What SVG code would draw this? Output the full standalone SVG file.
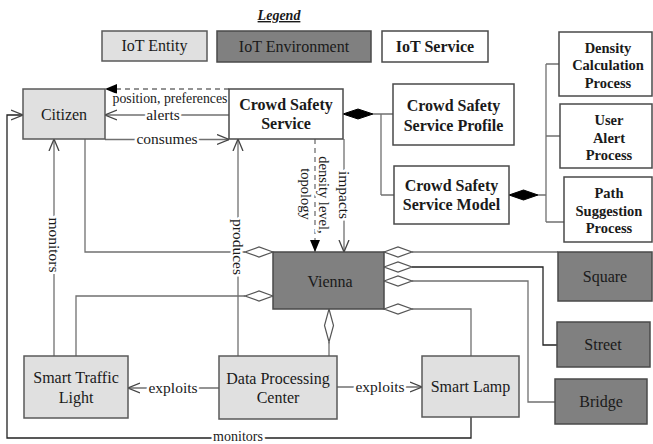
<svg xmlns="http://www.w3.org/2000/svg" width="653" height="444" viewBox="0 0 653 444" font-family="'Liberation Serif', 'Times New Roman', 'DejaVu Serif', serif">
<style>
text{font-family:'Liberation Serif','Times New Roman','DejaVu Serif',serif;fill:#1a1a1a;text-anchor:middle}
.n{font-size:16px}
.b{font-size:16px;font-weight:bold}
.p{font-size:14.5px;font-weight:bold}
.l{font-size:15.5px;paint-order:stroke;stroke:#fff;stroke-width:5px;stroke-linejoin:round}
.ent{fill:#e0e0e0;stroke:#5a5a5a;stroke-width:1.5}
.env{fill:#808080;stroke:#4a4a4a;stroke-width:1.5}
.srv{fill:#fff;stroke:#4a4a4a;stroke-width:1.5}
.ln{fill:none;stroke:#707070;stroke-width:1.3}
.dk{fill:none;stroke:#222;stroke-width:1.3}
.ds{fill:none;stroke:#707070;stroke-width:1.3;stroke-dasharray:5,4}
.hd{fill:#fff;stroke:#555;stroke-width:1.2}
.fd{fill:#000;stroke:#000;stroke-width:1}
</style>
<defs>
<marker id="open" viewBox="0 0 12 12" refX="12" refY="6" markerWidth="12" markerHeight="12" orient="auto" markerUnits="userSpaceOnUse"><path d="M0,1 L12,6 L0,11" fill="none" stroke="#444" stroke-width="1.3"/></marker>
<marker id="tri" viewBox="0 0 12 12" refX="12" refY="6" markerWidth="12" markerHeight="12" orient="auto" markerUnits="userSpaceOnUse"><path d="M0,1 L12,6 L0,11 Z" fill="#000"/></marker>
</defs>

<g id="legend">
<text x="279" y="20" style="font-size:14px;font-weight:bold;font-style:italic;text-decoration:underline">Legend</text>
<rect class="ent" x="102" y="31" width="105" height="30"/>
<text class="n" x="154.5" y="51">IoT Entity</text>
<rect class="env" x="217" y="31" width="154" height="31"/>
<text class="n" x="294" y="52">IoT Environment</text>
<rect class="srv" x="382" y="31" width="106" height="31"/>
<text class="b" x="435" y="52">IoT Service</text>
</g>

<g id="connectors">
<path class="ln" d="M373,114 H381 M381,114 V195 M381,114 H393 M381,195 H394"/>
<path class="ln" d="M538,195 H546 M546,64 V222 M546,64 H559 M546,136 H560 M546,222 H564"/>
<path class="ln" d="M85,139 V252 H245"/>
<path class="ln" d="M76,356 V296 H245"/>
<path class="ln" d="M412,252 H558"/>
<path class="dk" d="M412,267 H543 V345 H557"/>
<path class="ln" d="M412,281 H528 V402 H555"/>
<path class="ln" d="M412,309 H471 V356"/>
<path class="ln" d="M329,342 V356"/>
<path class="dk" d="M471,417 V438 H7 V115 H23" marker-end="url(#open)"/>
<path class="ln" d="M54,356 V139" marker-end="url(#open)"/>
<path class="ln" d="M238,356 V139" marker-end="url(#open)"/>
<path class="ds" d="M229,89 H105" marker-end="url(#tri)"/>
<path class="ln" d="M229,115 H105" marker-end="url(#open)"/>
<path class="ln" d="M105,139.5 H229" marker-end="url(#open)"/>
<path class="ds" d="M315,139 V252" marker-end="url(#tri)"/>
<path class="ln" d="M344,139 V252" marker-end="url(#open)"/>
<path class="ln" d="M219,388 H128" marker-end="url(#open)"/>
<path class="ln" d="M337,387 H422" marker-end="url(#open)"/>
<polygon class="fd" points="343,114 358,109 373,114 358,119"/>
<polygon class="fd" points="509,195 523.5,190 538,195 523.5,200"/>
<polygon class="hd" points="273,252 259,247 245,252 259,257"/>
<polygon class="hd" points="273,296 259,291 245,296 259,301"/>
<polygon class="hd" points="384,252 398,247 412,252 398,257"/>
<polygon class="hd" points="384,267 398,262 412,267 398,272"/>
<polygon class="hd" points="384,281 398,276 412,281 398,286"/>
<polygon class="hd" points="384,309 398,304 412,309 398,314"/>
<polygon class="hd" points="329,309 333.5,325.5 329,342 324.5,325.5"/>
<text class="l" x="170" y="103" style="font-size:14px" textLength="115" lengthAdjust="spacingAndGlyphs">position, preferences</text>
<text class="l" x="163" y="120">alerts</text>
<text class="l" x="167" y="144">consumes</text>
<text class="l" x="173" y="393">exploits</text>
<text class="l" x="380" y="392">exploits</text>
<text class="l" x="238" y="441" style="font-size:14px">monitors</text>
<text class="l" transform="translate(54,245) rotate(90)" x="0" y="5">monitors</text>
<text class="l" transform="translate(238,247) rotate(90)" x="0" y="5">produces</text>
<text class="l" transform="translate(344,195) rotate(90)" x="0" y="5">impacts</text>
<text class="l" transform="translate(324,195) rotate(90)" x="0" y="5" style="font-size:14.5px">density level,</text>
<text class="l" transform="translate(306,194) rotate(90)" x="0" y="5" style="font-size:14.5px">topology</text>
</g>

<g id="citizen"><rect class="ent" x="23" y="89" width="82" height="50"/><text class="n" x="64" y="120">Citizen</text></g>
<g id="crowd-safety-service"><rect class="srv" x="229" y="89" width="114" height="50"/><text class="b" x="286" y="110">Crowd Safety</text><text class="b" x="286" y="129">Service</text></g>
<g id="service-profile"><rect class="srv" x="393" y="84" width="121" height="61"/><text class="b" x="453.5" y="111">Crowd Safety</text><text class="b" x="453.5" y="131">Service Profile</text></g>
<g id="service-model"><rect class="srv" x="394" y="166" width="115" height="58"/><text class="b" x="451.5" y="191">Crowd Safety</text><text class="b" x="451.5" y="210">Service Model</text></g>
<g id="density-process"><rect class="srv" x="559" y="32" width="93" height="64"/><text class="p" x="608" y="53">Density</text><text class="p" x="608" y="70">Calculation</text><text class="p" x="608" y="88">Process</text></g>
<g id="alert-process"><rect class="srv" x="560" y="104" width="92" height="64"/><text class="p" x="609" y="125">User</text><text class="p" x="609" y="143">Alert</text><text class="p" x="609" y="160">Process</text></g>
<g id="path-process"><rect class="srv" x="564" y="177" width="88" height="65"/><text class="p" x="609" y="198">Path</text><text class="p" x="609" y="216">Suggestion</text><text class="p" x="609" y="233">Process</text></g>
<g id="vienna"><rect class="env" x="273" y="252" width="111" height="57"/><text class="n" x="330" y="287">Vienna</text></g>
<g id="square"><rect class="env" x="558" y="252" width="94" height="49"/><text class="n" x="605" y="282">Square</text></g>
<g id="street"><rect class="env" x="557" y="322" width="93" height="45"/><text class="n" x="603" y="350">Street</text></g>
<g id="bridge"><rect class="env" x="555" y="379" width="92" height="45"/><text class="n" x="601" y="407">Bridge</text></g>
<g id="smart-traffic-light"><rect class="ent" x="24" y="356" width="104" height="62"/><text class="n" x="76" y="383">Smart Traffic</text><text class="n" x="76" y="403">Light</text></g>
<g id="data-processing-center"><rect class="ent" x="219" y="356" width="118" height="63"/><text class="n" x="278" y="384">Data Processing</text><text class="n" x="278" y="403">Center</text></g>
<g id="smart-lamp"><rect class="ent" x="422" y="356" width="97" height="61"/><text class="n" x="470.5" y="392">Smart Lamp</text></g>
</svg>
